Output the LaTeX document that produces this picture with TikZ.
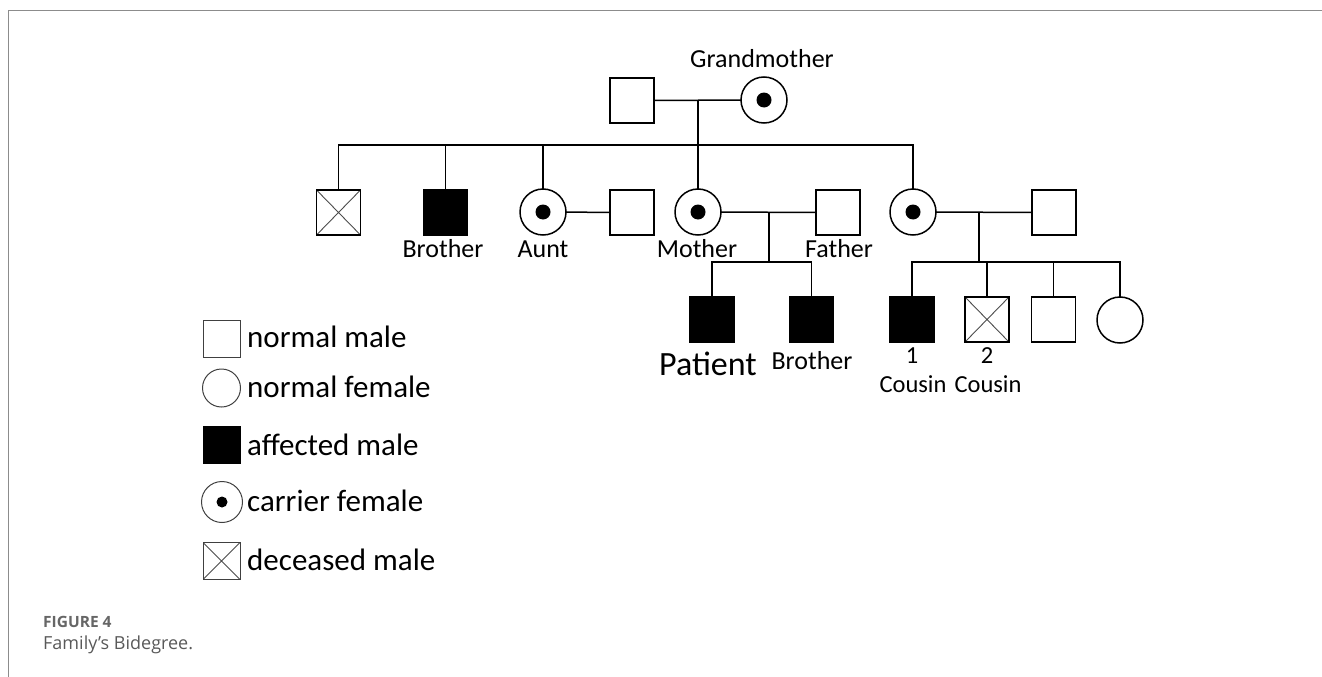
\documentclass[tikz,border=0pt]{standalone}
\usepackage{fontspec}
\setmainfont{Carlito}
\newfontfamily\capfont{Open Sans}
\begin{document}
\begin{tikzpicture}[x=1pt,y=-1pt,
  ped/.style={line width=1.5pt, draw=black},
  sym/.style={draw=black, line width=1.5pt, inner sep=0pt, outer sep=0pt},
  male/.style={sym, rectangle, minimum width=44pt, minimum height=45pt},
  female/.style={sym, circle, minimum size=46pt},
  affected/.style={male, fill=black},
  crossed/.style={path picture={\draw[line width=0.9pt, black!70]
      (path picture bounding box.south west) -- (path picture bounding box.north east)
      (path picture bounding box.north west) -- (path picture bounding box.south east);}},
  deceased/.style={male, crossed},
  carrier/.style={female, path picture={\fill[black] (path picture bounding box.center) circle[radius=7.5pt];}},
  lbl/.style={anchor=base, inner sep=0pt, font=\fontsize{26}{26}\selectfont},
  clbl/.style={lbl, font=\fontsize{24.5}{24.5}\selectfont},
  lsym/.style={draw=black!75, line width=1pt, inner sep=0pt, outer sep=0pt},
  lmale/.style={lsym, rectangle, minimum width=37pt, minimum height=37pt},
  lfemale/.style={lsym, circle, minimum size=38pt},
  laff/.style={lmale, draw=black, fill=black},
  lcar/.style={lsym, circle, minimum size=41pt, path picture={\fill[black] (path picture bounding box.center) circle[radius=5.5pt];}},
  ldec/.style={lmale, crossed},
  ltext/.style={anchor=base west, inner sep=0pt, font=\fontsize{31}{31}\selectfont}
]
\useasboundingbox (0,0) rectangle (1322,677);
% frame
\draw[black!45, line width=1pt] (8,677) -- (8,11) -- (1322,11);

% generation I
\node[male] (gf) at (632,100.5) {};
\node[carrier] (gm) at (764,100) {};
\node[lbl] (lgm) at (762,67) {Grandmother};

% generation II
\node[deceased] (dec1) at (338.5,212.5) {};
\node[affected] (bro1) at (445.5,212.5) {};
\node[carrier] (aunt) at (543,212) {};
\node[male] (uncle) at (632,212.5) {};
\node[carrier] (mother) at (698,212) {};
\node[male] (father) at (838,212.5) {};
\node[carrier] (dau3) at (913,212) {};
\node[male] (hus3) at (1054,212.5) {};

\node[lbl] (lbro1) at (443,257) {Brother};
\node[lbl] (launt) at (543,257) {Aunt};
\node[lbl] (lmother) at (697,257) {Mother};
\node[lbl] (lfather) at (839,257) {Father};

% generation III
\node[affected] (patient) at (712,319.5) {};
\node[affected] (bro2) at (811.5,319.5) {};
\node[affected] (c1) at (912,319.5) {};
\node[deceased] (c2) at (987,319.5) {};
\node[male] (c3) at (1053.5,319.5) {};
\node[female] (c4) at (1120,320) {};

\node[lbl, font=\fontsize{34}{34}\selectfont] (lpat) at (708,375) {Patient};
\node[lbl] (lbro2) at (812,369) {Brother};
\node[clbl] (ln1) at (912,363) {1};
\node[clbl] (ln2) at (987,363) {2};
\node[clbl] (lcou1) at (913,392) {Cousin};
\node[clbl] (lcou2) at (988,392) {Cousin};

% connectors
\coordinate (m1) at (698,100.5);
\coordinate (sib1) at (698,145);
\draw[ped] (gf) -- (gm);
\draw[ped] (m1) -- (mother);
\draw[ped] (dec1.north) |- (sib1) -| (dau3.north);
\draw[ped] (bro1.north) -- (bro1.north |- sib1);
\draw[ped] (aunt.north) -- (aunt.north |- sib1);
\draw[ped] (aunt) -- (uncle);

\coordinate (m2) at (769,212.5);
\coordinate (sib2) at (769,262);
\draw[ped] (mother) -- (father);
\draw[ped] (m2) -- (sib2);
\draw[ped] (patient.north) |- (sib2) -| (bro2.north);

\coordinate (m3) at (979,212.5);
\coordinate (sib3) at (979,262);
\draw[ped] (dau3) -- (hus3);
\draw[ped] (m3) -- (sib3);
\draw[ped] (c1.north) |- (sib3) -| (c4.north);
\draw[ped] (c2.north) -- (c2.north |- sib3);
\draw[ped] (c3.north) -- (c3.north |- sib3);

% legend
\node[lmale] (kmale) at (221.5,338.5) {};
\node[lfemale] (kfemale) at (221.5,388) {};
\node[laff] (kaff) at (221.5,445) {};
\node[lcar] (kcar) at (222,502) {};
\node[ldec] (kdec) at (221.5,561) {};
\node[ltext] (tmale) at (247,347) {normal male};
\node[ltext] (tfemale) at (247,397) {normal female};
\node[ltext] (taff) at (247,455) {affected male};
\node[ltext] (tcar) at (247,511) {carrier female};
\node[ltext] (tdec) at (247,570) {deceased male};

% caption
\node[anchor=base west, inner sep=0pt, text=black!60, font=\capfont\bfseries\fontsize{15.5}{15.5}\selectfont] (figno) at (43,627) {FIGURE 4};
\node[anchor=base west, inner sep=0pt, text=black!65, font=\capfont\fontsize{18}{18}\selectfont] (figcap) at (43,649) {Family’s Bidegree.};
\end{tikzpicture}
\end{document}
